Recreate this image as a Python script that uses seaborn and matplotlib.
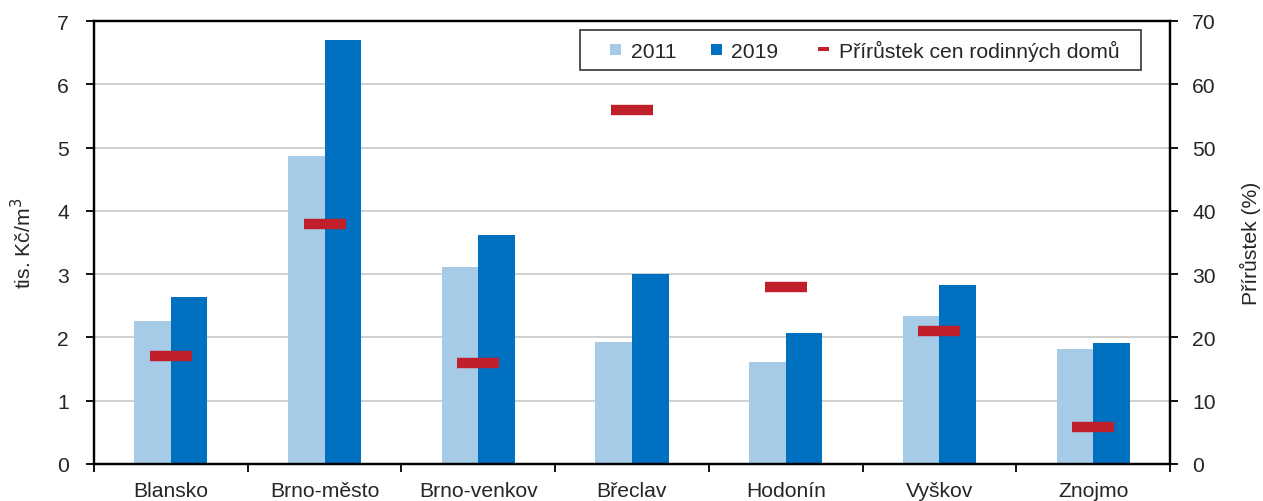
import matplotlib
matplotlib.use("Agg")
import matplotlib.pyplot as plt
import seaborn as sns
import pandas as pd
import numpy as np
from matplotlib.patches import Patch, Rectangle
from matplotlib.legend_handler import HandlerPatch

districts = ["Blansko", "Brno-město", "Brno-venkov", "Břeclav", "Hodonín", "Vyškov", "Znojmo"]
price_2011 = [2.26, 4.87, 3.11, 1.93, 1.61, 2.34, 1.82]
price_2019 = [2.64, 6.70, 3.62, 3.00, 2.07, 2.83, 1.91]
growth_pct = [17.0, 38.0, 16.0, 56.0, 28.0, 21.0, 5.8]
years = ["2011", "2019"]
growth_label = "Přírůstek cen rodinných domů"

sns.set_theme(style="white")
plt.rcParams["font.family"] = ["Liberation Sans", "DejaVu Sans"]

c2011 = "#a6cbe6"
c2019 = "#0070c0"
cred = "#c0202a"
FS = 15.2

df = pd.DataFrame({
    "district": districts * 2,
    "year": [years[0]] * len(districts) + [years[1]] * len(districts),
    "value": price_2011 + price_2019,
})

fig = plt.figure(figsize=(12.63, 5.02), dpi=100)
ax = fig.add_axes([94 / 1263, 1 - 465 / 502, (1170 - 94) / 1263, (465 - 22) / 502])

sns.barplot(data=df, x="district", y="value", hue="year", order=districts,
            hue_order=years, palette=[c2011, c2019], width=0.475, gap=0,
            saturation=1, ax=ax, legend=False, edgecolor="none")

ax.set_xlim(-0.5, len(districts) - 0.5)
ax.set_ylim(0, 7)
ax.set_yticks(range(0, 8))
ax.yaxis.grid(True, color="#c8c8c8", linewidth=1.2)
ax.set_axisbelow(True)
ax.set_xlabel("")
ax.set_ylabel("tis. Kč/m$^3$", fontsize=FS, labelpad=16)

ax.set_xticks(range(len(districts)))
ax.set_xticklabels(districts, fontsize=FS)
ax.set_xticks(np.arange(-0.5, len(districts), 1.0), minor=True)
ax.tick_params(axis="x", which="major", length=0, pad=12.5)
ax.tick_params(axis="x", which="minor", length=6, width=1.3, color="black", direction="out", bottom=True)
ax.tick_params(axis="y", length=6, width=1.3, color="black", direction="out", left=True, labelsize=FS, pad=12)

for s in ax.spines.values():
    s.set_color("black")
    s.set_linewidth(1.6)

ax2 = ax.twinx()
ax2.set_ylim(0, 70)
ax2.set_yticks(range(0, 80, 10))
xs = np.arange(len(districts))
ax2.hlines(growth_pct, xs - 0.137, xs + 0.137, colors=cred, linewidth=7.5, capstyle="butt")
ax2.tick_params(axis="y", length=6, width=1.3, color="black", direction="out", right=True, labelsize=FS, pad=10)
ax2.set_ylabel("Přírůstek (%)", fontsize=FS, labelpad=17)
ax2.grid(False)
for s in ax2.spines.values():
    s.set_color("black")
    s.set_linewidth(1.6)

SQ = 11 * 72 / 100.0   # square side in points
DASH_H = 3.6 * 72 / 100.0


def square_right(legend, orig_handle, xdescent, ydescent, width, height, fontsize):
    return Rectangle((-xdescent + width - SQ, -ydescent + (height - SQ) / 2), SQ, SQ)


def dash_right(legend, orig_handle, xdescent, ydescent, width, height, fontsize):
    return Rectangle((-xdescent + width - SQ, -ydescent + (height - DASH_H) / 2), SQ, DASH_H)


h2011 = Patch(facecolor=c2011, edgecolor="none", label=years[0])
h2019 = Patch(facecolor=c2019, edgecolor="none", label=years[1] + " ")
hgrow = Patch(facecolor=cred, edgecolor="none", label=growth_label + "  ")

leg = ax2.legend(handles=[h2011, h2019, hgrow], ncol=3, loc="upper right",
                 bbox_to_anchor=((1141 - 94) / 1076, (465 - 31) / 443),
                 handler_map={h2011: HandlerPatch(patch_func=square_right),
                              h2019: HandlerPatch(patch_func=square_right),
                              hgrow: HandlerPatch(patch_func=dash_right)},
                 fontsize=FS, frameon=True, fancybox=False, edgecolor="black",
                 handlelength=1.5, handleheight=0.7, handletextpad=0.47,
                 columnspacing=0.62, borderpad=0.45, borderaxespad=0)
leg.get_frame().set_linewidth(1.2)

fig.savefig("out.png", dpi=100)
